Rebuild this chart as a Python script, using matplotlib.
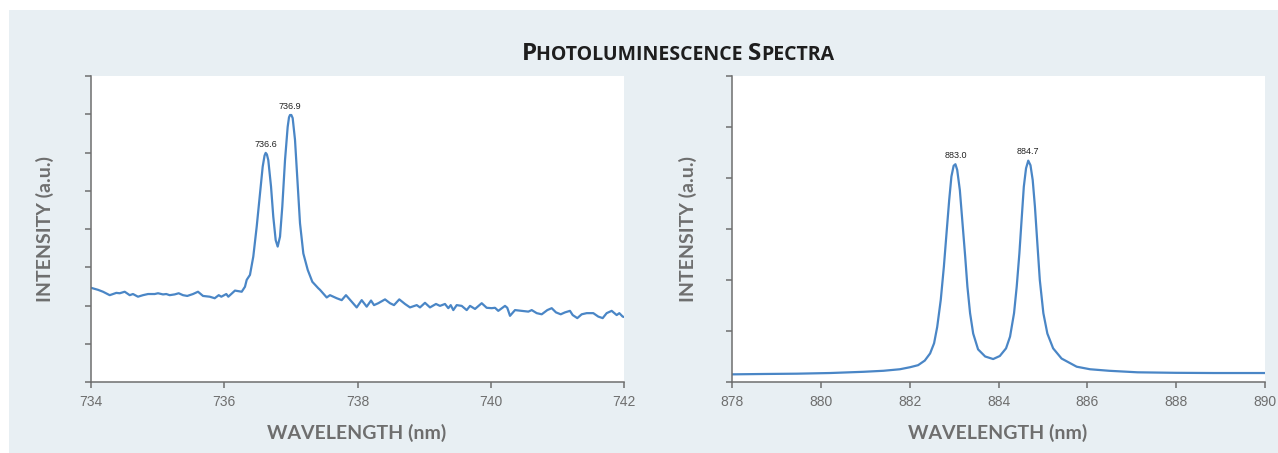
import matplotlib
matplotlib.use("Agg")
import matplotlib.pyplot as plt
from matplotlib.patches import Rectangle
from matplotlib.offsetbox import TextArea, HPacker, AnnotationBbox

# spectrum 1 (nm, a.u.)
wl_1 = [734.005, 734.105, 734.180, 734.281, 734.380, 734.431, 734.506, 734.581, 734.630, 734.705,
        734.780, 734.856, 734.956, 735.006, 735.081, 735.130, 735.181, 735.256, 735.316, 735.381,
        735.445, 735.531, 735.606, 735.681, 735.782, 735.857, 735.917, 735.956, 736.031, 736.061,
        736.161, 736.262, 736.311, 736.337, 736.386, 736.436, 736.487, 736.537, 736.577, 736.605,
        736.622, 736.640, 736.661, 736.702, 736.736, 736.772, 736.802, 736.837, 736.871, 736.912,
        736.952, 736.972, 736.987, 737.007, 737.027, 737.062, 737.102, 737.137, 737.187, 737.253,
        737.322, 737.412, 737.437, 737.538,
        737.587, 737.688, 737.763, 737.827, 737.913, 737.988, 738.063, 738.138, 738.203, 738.248,
        738.312, 738.413, 738.488, 738.548, 738.627, 738.713, 738.788, 738.889, 738.938, 739.013,
        739.088, 739.178, 739.238, 739.313, 739.363, 739.399, 739.438, 739.489, 739.564, 739.639,
        739.689, 739.764, 739.864, 739.939, 740.014, 740.064, 740.113, 740.214, 740.248, 740.289,
        740.364, 740.464, 740.564, 740.615, 740.690, 740.765, 740.849, 740.915, 740.979, 741.050,
        741.114, 741.189, 741.230, 741.299, 741.365, 741.440, 741.539, 741.614, 741.680, 741.740,
        741.815, 741.890, 741.930, 741.980, 742.000]
int_1 = [2.46, 2.41, 2.36, 2.27, 2.33, 2.32, 2.36, 2.27, 2.30, 2.23,
         2.27, 2.30, 2.30, 2.32, 2.29, 2.30, 2.27, 2.29, 2.32, 2.27,
         2.25, 2.30, 2.36, 2.25, 2.23, 2.19, 2.27, 2.23, 2.30, 2.23,
         2.39, 2.36, 2.49, 2.67, 2.80, 3.28, 4.06, 4.93, 5.63, 5.92,
         5.99, 5.95, 5.80, 5.11, 4.32, 3.71, 3.54, 3.80, 4.58, 5.80,
         6.67, 6.92, 6.98, 6.98, 6.90, 6.33, 5.19, 4.15, 3.36, 2.93,
         2.62, 2.45, 2.41, 2.21,
         2.27, 2.19, 2.14, 2.27, 2.10, 1.95, 2.14, 1.97, 2.13, 2.01,
         2.06, 2.16, 2.06, 2.01, 2.16, 2.04, 1.95, 2.01, 1.95, 2.07,
         1.95, 2.04, 1.99, 2.04, 1.93, 2.01, 1.88, 2.01, 1.99, 1.88,
         1.99, 1.91, 2.06, 1.94, 1.93, 1.94, 1.86, 1.99, 1.94, 1.73,
         1.88, 1.86, 1.84, 1.88, 1.80, 1.77, 1.88, 1.93, 1.82, 1.77,
         1.82, 1.86, 1.75, 1.67, 1.77, 1.80, 1.80, 1.71, 1.67, 1.80,
         1.86, 1.75, 1.80, 1.71, 1.70]

# spectrum 2
wl_2 = [878.00, 878.70, 879.46, 880.21, 880.96, 881.41, 881.78, 882.01, 882.19, 882.34,
        882.46, 882.55, 882.62, 882.70, 882.77, 882.83, 882.89, 882.94, 882.99, 883.03,
        883.07, 883.13, 883.19, 883.25, 883.30, 883.36, 883.43, 883.54, 883.70, 883.88,
        884.03, 884.17, 884.26, 884.35, 884.41, 884.47, 884.52, 884.57, 884.62, 884.67,
        884.72, 884.77, 884.82, 884.87, 884.93, 885.01, 885.10, 885.23, 885.42, 885.76,
        886.06, 886.49, 887.13, 887.99, 888.85, 890.00]
int_2 = [0.15, 0.157, 0.163, 0.176, 0.20, 0.22, 0.25, 0.29, 0.33, 0.42,
         0.56, 0.76, 1.08, 1.61, 2.26, 2.92, 3.57, 4.03, 4.24, 4.27,
         4.16, 3.76, 3.11, 2.46, 1.87, 1.35, 0.95, 0.64, 0.50, 0.45,
         0.51, 0.66, 0.89, 1.35, 1.87, 2.52, 3.18, 3.83, 4.19, 4.34,
         4.25, 3.96, 3.44, 2.78, 2.00, 1.35, 0.95, 0.66, 0.46, 0.30,
         0.25, 0.22, 0.19, 0.18, 0.176, 0.176]

peaks_1 = [(736.62, 5.99, "736.6"), (736.99, 6.98, "736.9")]
peaks_2 = [(883.03, 4.27, "883.0"), (884.67, 4.34, "884.7")]

line_col = "#4a86c6"
grey = "#6e6e6e"
panel_bg = "#e8eff3"

fig = plt.figure(figsize=(12.78, 4.53), dpi=100, facecolor="white")
fig.add_artist(Rectangle((9 / 1278, 0), 1 - 9 / 1278, 1 - 10 / 453,
                         transform=fig.transFigure, facecolor=panel_bg,
                         edgecolor="none", zorder=-10))

def spectrum(rect, wl, inten, peaks, xlim, ymax):
    ax = fig.add_axes(rect)
    ax.set_facecolor("white")
    ax.plot(wl, inten, color=line_col, lw=1.6, solid_joinstyle="round")
    ax.set_xlim(*xlim)
    ax.set_ylim(0, ymax)
    ax.set_xticks(range(xlim[0], xlim[1] + 1, 2))
    ax.set_yticks(range(0, ymax + 1))
    ax.set_yticklabels([])
    for s in ["top", "right"]:
        ax.spines[s].set_visible(False)
    for s in ["left", "bottom"]:
        ax.spines[s].set_color(grey)
        ax.spines[s].set_linewidth(1.1)
    ax.tick_params(direction="out", length=4, width=1.1, color=grey,
                   labelcolor=grey, labelsize=10, pad=5)
    for lab in ax.get_xticklabels():
        lab.set_fontfamily("Liberation Sans")
    for x, y, t in peaks:
        ax.annotate(t, (x, y), xytext=(0, 3), textcoords="offset points",
                    ha="center", va="bottom", fontsize=6.5, color="#222222",
                    family="Liberation Sans")
    return ax

ax1 = spectrum([91 / 1278, 1 - 382 / 453, 533 / 1278, 306 / 453], wl_1, int_1, peaks_1, (734, 742), 8)
ax2 = spectrum([732 / 1278, 1 - 382 / 453, 533 / 1278, 306 / 453], wl_2, int_2, peaks_2, (878, 890), 6)

lab_kw = dict(fontsize=14, fontweight="bold", color=grey, family="Lato")
fig.text(45 / 1278, 1 - 229 / 453, "INTENSITY (a.u.)", rotation=90, ha="center", va="center", **lab_kw)
fig.text(688 / 1278, 1 - 229 / 453, "INTENSITY (a.u.)", rotation=90, ha="center", va="center", **lab_kw)
fig.text(357 / 1278, 1 - 433 / 453, "WAVELENGTH (nm)", ha="center", va="center", **lab_kw)
fig.text(998 / 1278, 1 - 433 / 453, "WAVELENGTH (nm)", ha="center", va="center", **lab_kw)

# small caps title
parts = [("P", 17.5), ("HOTOLUMINESCENCE ", 14), ("S", 17.5), ("PECTRA", 14)]
boxes = [TextArea(t, textprops=dict(fontsize=s, fontweight="bold", color="#1e1e1e", family="Open Sans"))
         for t, s in parts]
title = HPacker(children=boxes, align="baseline", pad=0, sep=0)
fig.add_artist(AnnotationBbox(title, (678 / 1278, 1 - 54.5 / 453), xycoords="figure fraction",
                              box_alignment=(0.5, 0.5), frameon=False))

fig.savefig("out.png", dpi=100, facecolor=fig.get_facecolor())
